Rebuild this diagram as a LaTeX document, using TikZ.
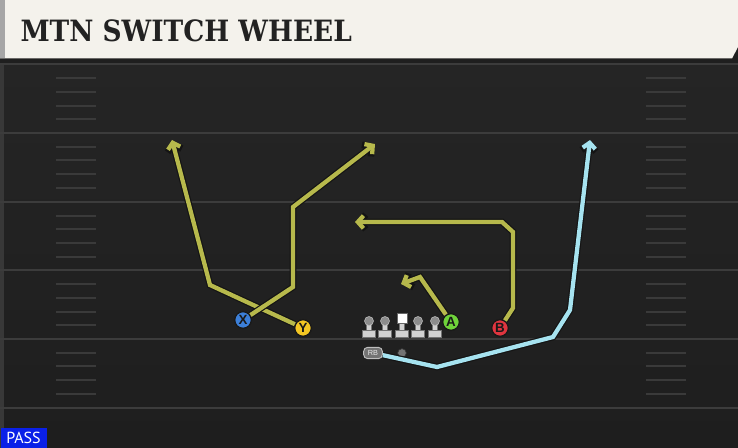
\documentclass[tikz,border=0pt]{standalone}
\usepackage{fontspec}
\setmainfont{DejaVu Serif}
\setsansfont{Liberation Sans}
\newfontfamily\passfont{PT Sans}
\usetikzlibrary{arrows.meta}
\definecolor{fieldgray}{RGB}{37,37,37}
\definecolor{fielddark}{RGB}{30,30,30}
\definecolor{yardline}{RGB}{60,60,60}
\definecolor{hashgray}{RGB}{58,58,58}
\definecolor{headcream}{RGB}{244,242,236}
\definecolor{titleink}{RGB}{34,34,34}
\definecolor{routeyellow}{RGB}{183,185,76}
\definecolor{routecyan}{RGB}{166,227,240}
\definecolor{xblue}{RGB}{60,127,216}
\definecolor{yyellow}{RGB}{243,198,35}
\definecolor{agreen}{RGB}{111,211,58}
\definecolor{bred}{RGB}{224,53,63}
\definecolor{passblue}{RGB}{10,32,232}
\tikzset{every picture/.style={line width=0.75pt}}
\tikzset{
  player/.style={circle,draw=black!90,line width=1pt,fill=#1,minimum size=12.5pt,inner sep=0pt,
    text=black!90,font=\sffamily\bfseries\fontsize{10}{10}\selectfont},
  route/.style={draw=#1,line width=3.2pt,line join=miter,-{Straight Barb[length=4.2pt,width=9.5pt]},
    preaction={draw=black!92,line width=5pt,-{Straight Barb[length=4.8pt,width=11pt]}}},
  lineman/.style={fill=black!18,draw=black!55,line width=0.4pt},
}

\begin{document}
\begin{tikzpicture}[x=0.75pt,y=0.75pt,yscale=-1,xscale=1]
\useasboundingbox (0,0) rectangle (738,448);

%Field
\shade [top color=fieldgray,bottom color=fielddark] (0,59) rectangle (738,448);
\fill [black!88] (0,40) rectangle (738,63);
\fill [black!78] (0,63) rectangle (4,448);
%Yard lines
\foreach \ly in {64.5,133,202,270.5,339,408}
  \draw [yardline,line width=1.5pt] (0,\ly) -- (738,\ly);
%Hash marks
\foreach \ly in {64.5,133,202,270.5,339}
  \foreach \k in {1,...,4} {
    \draw [hashgray,line width=1.5pt] (56,\ly+13.7*\k) -- (96,\ly+13.7*\k);
    \draw [hashgray,line width=1.5pt] (646,\ly+13.7*\k) -- (686,\ly+13.7*\k);
  }

%Header
\fill [headcream] (0,0) -- (738,0) -- (738,47) -- (732,58.5) -- (0,58.5) -- cycle;
\fill [black!35] (0,0) rectangle (5,58.5);
\node (title) [anchor=base west,inner sep=0pt,text=titleink,font=\fontspec{DejaVu Serif Condensed}\bfseries\fontsize{22}{22}\selectfont] at (20,42) {MTN SWITCH WHEEL};

%Players
\node (X) [player=xblue] at (243,320) {X};
\node (Y) [player=yyellow] at (303,328) {Y};
\node (A) [player=agreen] at (451,322) {A};
\node (B) [player=bred] at (500,328) {B};
\node (RB) [rounded corners=3pt,fill=black!55,draw=black!25,line width=0.7pt,minimum width=14pt,minimum height=8.5pt,inner sep=0pt,text=black!10,font=\sffamily\fontsize{5.5}{5.5}\selectfont] at (373,353) {RB};
\node (QB) [circle,fill=black!55,draw=black!80,line width=0.5pt,minimum size=6.5pt,inner sep=0pt] at (402,353) {};

%Line
\foreach \lx in {369,385,418,435} {
  \draw [lineman] (\lx-2.5,321) rectangle (\lx+2.5,331);
  \draw [lineman] (\lx-6.5,330) rectangle (\lx+6.5,337);
  \draw [fill=black!45,draw=black!25,line width=0.4pt] (\lx,321) circle [radius=4.5];
}
\draw [lineman] (399.5,322) rectangle (404.5,331);
\draw [lineman] (395.5,330) rectangle (408.5,337);
\draw [fill=white,draw=black!60,line width=0.4pt] (397,313.5) rectangle (407,323);

%Routes
\coordinate (y1) at (210,285);
\coordinate (y2) at (172,140);
\coordinate (x1) at (293,287);
\coordinate (x2) at (293,207);
\coordinate (x3) at (375,144);
\coordinate (a1) at (420,277);
\coordinate (a2) at (401,284);
\coordinate (b1) at (513,308);
\coordinate (b2) at (513,232);
\coordinate (b3) at (502,222);
\coordinate (b4) at (355,222);
\coordinate (r1) at (437,367);
\coordinate (r2) at (553,337);
\coordinate (r3) at (570,310);
\coordinate (r4) at (590,140);
\draw [route=routeyellow] (Y) -- (y1) -- (y2);
\draw [route=routeyellow] (X) -- (x1) -- (x2) -- (x3);
\draw [route=routeyellow] (A) -- (a1) -- (a2);
\draw [route=routeyellow] (B) -- (b1) -- (b2) -- (b3) -- (b4);
\draw [route=routecyan] (RB) -- (r1) -- (r2) -- (r3) -- (r4);

% Play type
\node (pass) [anchor=south west,fill=passblue,minimum width=34.5pt,minimum height=15pt,inner sep=0pt,text=white,font=\passfont\fontsize{12}{12}\selectfont] at (0,448) {PASS};

\end{tikzpicture}
\end{document}
